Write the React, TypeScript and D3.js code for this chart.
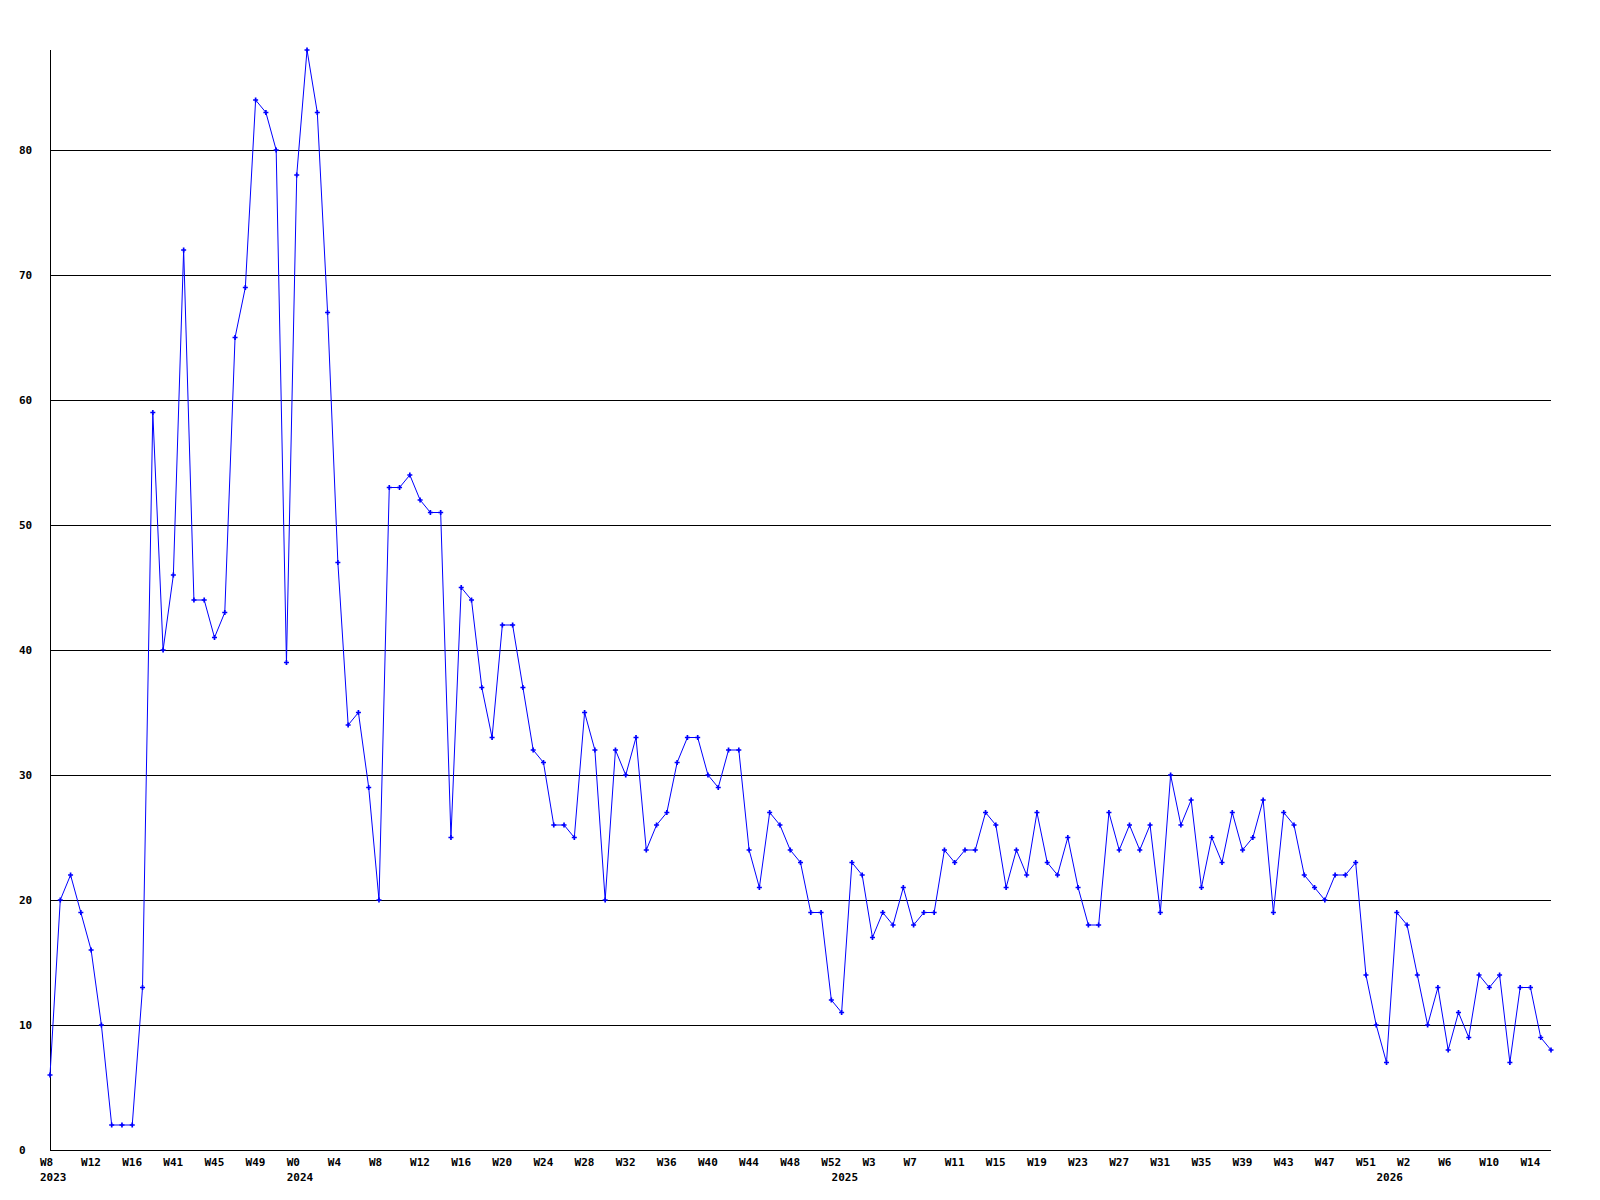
import React from "react";
import * as d3 from "d3";

const values: number[] = [
  6, 20, 22, 19, 16, 10, 2, 2, 2, 13,
  59, 40, 46, 72, 44, 44, 41, 43, 65, 69,
  84, 83, 80, 39, 78, 88, 83, 67, 47, 34,
  35, 29, 20, 53, 53, 54, 52, 51, 51, 25,
  45, 44, 37, 33, 42, 42, 37, 32, 31, 26,
  26, 25, 35, 32, 20, 32, 30, 33, 24, 26,
  27, 31, 33, 33, 30, 29, 32, 32, 24, 21,
  27, 26, 24, 23, 19, 19, 12, 11, 23, 22,
  17, 19, 18, 21, 18, 19, 19, 24, 23, 24,
  24, 27, 26, 21, 24, 22, 27, 23, 22, 25,
  21, 18, 18, 27, 24, 26, 24, 26, 19, 30,
  26, 28, 21, 25, 23, 27, 24, 25, 28, 19,
  27, 26, 22, 21, 20, 22, 22, 23, 14, 10,
  7, 19, 18, 14, 10, 13, 8, 11, 9, 14,
  13, 14, 7, 13, 13, 9, 8,
];

const tickLabels: string[] = [
  "W8", "W12", "W16", "W41", "W45", "W49", "W0", "W4", "W8", "W12",
  "W16", "W20", "W24", "W28", "W32", "W36", "W40", "W44", "W48", "W52",
  "W3", "W7", "W11", "W15", "W19", "W23", "W27", "W31", "W35", "W39",
  "W43", "W47", "W51", "W2", "W6", "W10", "W14",
];
const tickEvery = 4;

const yearLabels: string[] = ["2023", "2024", "2025", "2026"];
const yearIndex: number[] = [0, 24, 77, 130];

const yTicks: number[] = [0, 10, 20, 30, 40, 50, 60, 70, 80];
const yMax = 88;

const W = 1600;
const H = 1200;
const left = 50;
const right = 1551;
const top = 50;
const bottom = 1150;
const font = "'DejaVu Sans Mono', monospace";

export default function App() {
  const x = d3.scaleLinear().domain([0, values.length - 1]).range([left, right]);
  const y = d3.scaleLinear().domain([0, yMax]).range([bottom, top]);
  const line = d3
    .line<number>()
    .x((_, i) => x(i))
    .y((d) => y(d));
  const marker = d3.symbol().type(d3.symbolCross).size(14)();

  return (
    <svg
      width={W}
      height={H}
      style={{ position: "fixed", left: 0, top: 0, background: "#fff" }}
    >
      <rect x={0} y={0} width={W} height={H} fill="#fff" />
      {yTicks.map((t) => (
        <g key={t}>
          {t > 0 && (
            <line
              x1={left}
              x2={right}
              y1={Math.round(y(t)) + 0.5}
              y2={Math.round(y(t)) + 0.5}
              stroke="#000"
              strokeWidth={1}
              shapeRendering="crispEdges"
            />
          )}
          <text
            x={19}
            y={y(t)}
            dy="0.36em"
            fontFamily={font}
            fontWeight="bold"
            fontSize={11}
            fill="#000"
          >
            {t}
          </text>
        </g>
      ))}
      <line
        x1={left + 0.5}
        x2={left + 0.5}
        y1={top}
        y2={bottom}
        stroke="#000"
        shapeRendering="crispEdges"
      />
      <line
        x1={left}
        x2={right}
        y1={bottom + 0.5}
        y2={bottom + 0.5}
        stroke="#000"
        shapeRendering="crispEdges"
      />
      {tickLabels.map((l, k) => (
        <text
          key={k}
          x={x(k * tickEvery) - 10}
          y={1166}
          fontFamily={font}
          fontWeight="bold"
          fontSize={11}
          fill="#000"
        >
          {l}
        </text>
      ))}
      {yearLabels.map((l, k) => (
        <text
          key={l}
          x={x(yearIndex[k]) - 10}
          y={1181}
          fontFamily={font}
          fontWeight="bold"
          fontSize={11}
          fill="#000"
        >
          {l}
        </text>
      ))}
      <path
        d={line(values) || ""}
        fill="none"
        stroke="#0000ff"
        strokeWidth={1}
      />
      {values.map((v, i) => (
        <path
          key={i}
          d={marker}
          transform={`translate(${x(i)},${y(v)})`}
          fill="#0000ff"
        />
      ))}
    </svg>
  );
}
